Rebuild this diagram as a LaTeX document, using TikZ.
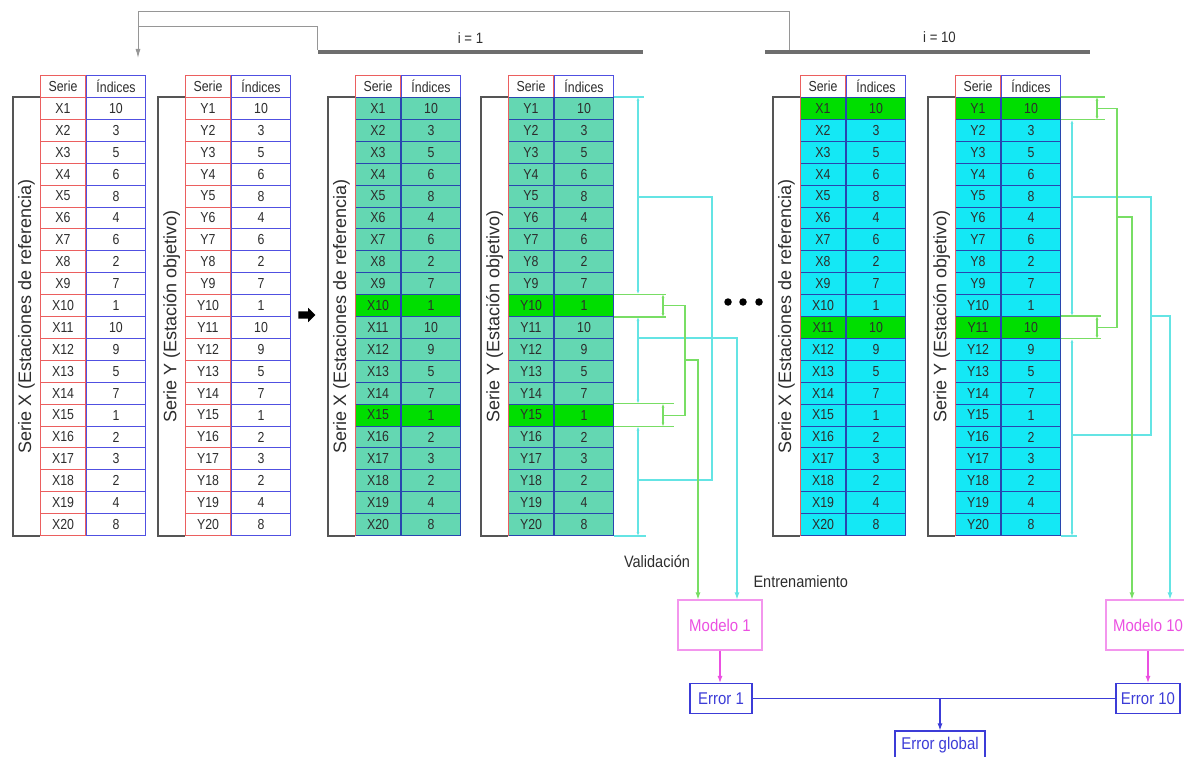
\documentclass[tikz,border=0pt]{standalone}
\usepackage{fontspec}
\setmainfont{Liberation Sans}
\newfontfamily\cellfont[FakeStretch=0.85]{Liberation Sans}
\newfontfamily\boxfont[FakeStretch=0.88]{Liberation Sans}
\usetikzlibrary{positioning,arrows.meta,calc,shapes.arrows}

\definecolor{serred}{RGB}{235,95,95}
\definecolor{serblue}{RGB}{80,80,225}
\definecolor{cellblue}{RGB}{40,70,175}
\definecolor{aquafill}{RGB}{100,215,178}
\definecolor{cyanfill}{RGB}{20,232,245}
\definecolor{hlgreen}{RGB}{0,222,0}
\definecolor{trainc}{RGB}{100,228,228}
\definecolor{valc}{RGB}{120,222,100}
\definecolor{magc}{RGB}{235,80,225}
\definecolor{errc}{RGB}{60,60,215}
\definecolor{brkgray}{RGB}{85,85,85}
\definecolor{topgray}{RGB}{150,150,150}
\definecolor{bargray}{RGB}{110,110,110}
\definecolor{txtgray}{RGB}{45,45,45}

\tikzset{
  cell/.style={anchor=north west, inner sep=0pt, minimum height=21.9pt, line width=1pt,
               text=txtgray, font=\cellfont\fontsize{14.5}{16}\selectfont},
  colS/.style={cell, minimum width=45pt},
  colI/.style={cell, minimum width=59pt},
  headS/.style={colS, draw=serred, fill=white},
  headI/.style={colI, draw=serblue, fill=white},
  plainS/.style={colS, draw=serred},
  plainI/.style={colI, draw=serblue},
  aquaS/.style={colS, draw=cellblue},
  aquaI/.style={colI, draw=cellblue},
  cyanS/.style={colS, draw=cellblue},
  cyanI/.style={colI, draw=cellblue}
}

% #1 name, #2 left x, #3 letter, #4 kind, #5/#6 validation rows, #7 fill, #8 side label
\newcommand{\serietable}[8]{%
  \node[headS] (#1-hs) at (#2,75.1) {Serie};
  \node[headI, right=0pt of #1-hs] (#1-hi) {Índices};
  \foreach \v [count=\k] in {10,3,5,6,8,4,6,2,7,1,10,9,5,7,1,2,3,2,4,8}{%
    \ifnum\k=#5 \colorlet{rowfill}{hlgreen}\else
      \ifnum\k=#6 \colorlet{rowfill}{hlgreen}\else\colorlet{rowfill}{#7}\fi\fi
    \node[#4S, fill=rowfill] (#1-s\k) at (#2,{97+21.9*(\k-1)}) {#3\k};
    \node[#4I, fill=rowfill, right=0pt of #1-s\k] (#1-i\k) {\v};
  }
  \draw[serred, line width=1pt] (#1-s1.north west) -- (#1-s20.south west);
  \draw[brk] (#1-s1.north west) -- ++(-27,0) coordinate (#1-bt) |- (#1-s20.south west);
  \node[brklab] (#1-lab) at ($(#1-bt)!0.5!(#1-bt |- #1-s20.south west)+(13.5,0)$) {#8};
}

\begin{document}
\begin{tikzpicture}[x=1pt, y=-1pt, >={Latex[length=7pt,width=5pt]},
  brk/.style={draw=brkgray, line width=1.2pt},
  brklab/.style={rotate=90, inner sep=0pt, text=txtgray, font=\fontsize{18}{20}\selectfont},
  topline/.style={draw=topgray, line width=1pt},
  bar/.style={fill=bargray, inner sep=0pt, minimum height=4.5pt},
  steplab/.style={text=txtgray, font=\boxfont\fontsize{15}{17}\selectfont},
  train/.style={draw=trainc, line width=1.1pt},
  valid/.style={draw=valc, line width=1.1pt},
  dimarrows/.style={{Latex[length=4pt,width=3pt]}-{Latex[length=4pt,width=3pt]}},
  modelbox/.style={draw=magc!60, line width=1.1pt, text=magc, minimum width=84pt,
                   minimum height=50pt, font=\boxfont\fontsize{17}{19}\selectfont},
  errbox/.style={draw=errc, line width=1.1pt, text=errc, minimum height=30pt, inner xsep=5pt,
                 font=\boxfont\fontsize{17}{19}\selectfont},
  txtlab/.style={text=txtgray, font=\boxfont\fontsize{16.5}{18}\selectfont},
  dot/.style={circle, fill=black, inner sep=0pt, minimum size=7.5pt}]
  \useasboundingbox (0,0) rectangle (1184,757);

  % the six tables
  \serietable{t1}{40}{X}{plain}{0}{0}{white}{Serie X (Estaciones de referencia)}
  \serietable{t2}{185}{Y}{plain}{0}{0}{white}{Serie Y (Estación objetivo)}
  \serietable{t3}{355}{X}{aqua}{10}{15}{aquafill}{Serie X (Estaciones de referencia)}
  \serietable{t4}{508}{Y}{aqua}{10}{15}{aquafill}{Serie Y (Estación objetivo)}
  \serietable{t5}{800}{X}{cyan}{1}{11}{cyanfill}{Serie X (Estaciones de referencia)}
  \serietable{t6}{955}{Y}{cyan}{1}{11}{cyanfill}{Serie Y (Estación objetivo)}

  % iterations on top
  \node[bar, minimum width=325pt] (bar1) at (480.5,52) {};
  \node[bar, minimum width=325pt] (bar10) at (927.5,52) {};
  \node[steplab, above=3pt of bar1, xshift=-10pt] (lab1) {i = 1};
  \node[steplab, above=3pt of bar10, xshift=12pt] (lab10) {i = 10};
  \coordinate (start) at (138,58);
  \coordinate (up10) at ($(bar10.north west)+(25,0)$);
  \draw[topline, -{Latex[length=9pt,width=5pt]}] (up10) -- (up10 |- 0,12) -| (start);
  \draw[topline] (bar1.north west) |- (start |- 0,27);

  \node[single arrow, fill=black, inner sep=3.5pt, minimum height=17pt,
        single arrow head extend=3.5pt] (nextarr) at (305,315) {};
  \foreach \d [count=\n] in {728,743,759} \node[dot] (dot\n) at (\d,302) {};

  % models and errors
  \node[modelbox] (mod1) at (720,625) {Modelo 1};
  \node[errbox, minimum width=62pt] (err1) at (721,698.5) {Error 1};
  \node[errbox, minimum width=90pt, minimum height=29pt] (errg) at (940,745.5) {Error global};
  \node[modelbox] (mod10) at (1148,625) {Modelo 10};
  \node[errbox] (err10) at (1148,698.5) {Error 10};
  \draw[magc, line width=1.1pt, ->] (mod1.south) -- (mod1.south |- err1.north);
  \draw[magc, line width=1.1pt, ->] (mod10.south) -- (mod10.south |- err10.north);
  \draw[errc, line width=1.1pt] (err1.east) -- (err10.west);
  \draw[errc, line width=1.1pt, ->] (errg.north |- err1.east) -- (errg.north);
  \node[txtlab] (valtxt) at (657,562) {Validación};
  \node[txtlab, anchor=west] (enttxt) at (750,582) {Entrenamiento};

  % i = 1: training
  \coordinate (cx4) at (638,0);
  \draw[train] (t4-i1.north east) -- ++(30,0);
  \draw[train] (t4-i20.south east) -- ++(32,0);
  \draw[train, dimarrows] (cx4 |- t4-i1.north) -- (cx4 |- t4-i10.north);
  \draw[train, dimarrows] (cx4 |- t4-i10.south) -- (cx4 |- t4-i15.north);
  \draw[train, dimarrows] (cx4 |- t4-i15.south) -- (cx4 |- t4-i20.south);
  \coordinate (cb4t) at (712,197);
  \coordinate (cb4b) at (712,480);
  \draw[train] (cx4 |- cb4t) -- (cb4t) -- (cb4b) -- (cx4 |- cb4b);
  \coordinate (co4) at (737,338);
  \draw[train, ->] (cx4 |- co4) -- (co4) -- (co4 |- mod1.north);

  % i = 1: validation
  \coordinate (gx4) at (663,0);
  \foreach \r/\l in {10/52,15/60}{
    \draw[valid] (t4-i\r.north east) -- ++(\l,0);
    \draw[valid] (t4-i\r.south east) -- ++(\l,0);
    \draw[valid, dimarrows] (gx4 |- t4-i\r.north) -- (gx4 |- t4-i\r.south);
  }
  \coordinate (gb4) at (685,0);
  \draw[valid] (gx4 |- t4-i10) -- (gb4 |- t4-i10) -- (gb4 |- t4-i15) -- (gx4 |- t4-i15);
  \coordinate (go4) at (698,360);
  \draw[valid, ->] (gb4 |- go4) -- (go4) -- (go4 |- mod1.north);

  % i = 10: training
  \coordinate (cx6) at (1072,0);
  \draw[train] (t6-i20.south east) -- ++(16,0);
  \draw[train, dimarrows] (cx6 |- t6-i1.south) -- (cx6 |- t6-i11.north);
  \draw[train, dimarrows] (cx6 |- t6-i11.south) -- (cx6 |- t6-i20.south);
  \coordinate (cb6t) at (1151,197);
  \coordinate (cb6b) at (1151,435);
  \draw[train] (cx6 |- cb6t) -- (cb6t) -- (cb6b) -- (cx6 |- cb6b);
  \coordinate (co6) at (1170,316);
  \draw[train, ->] (cb6t |- co6) -- (co6) -- (co6 |- mod10.north);

  % i = 10: validation
  \coordinate (gx6) at (1097,0);
  \foreach \r/\l in {1/44,11/40}{
    \draw[valid] (t6-i\r.north east) -- ++(\l,0);
    \draw[valid] (t6-i\r.south east) -- ++(\l,0);
    \draw[valid, dimarrows] (gx6 |- t6-i\r.north) -- (gx6 |- t6-i\r.south);
  }
  \coordinate (gb6) at (1117,0);
  \draw[valid] (gx6 |- t6-i1) -- (gb6 |- t6-i1) -- (gb6 |- t6-i11) -- (gx6 |- t6-i11);
  \coordinate (go6) at (1132,217);
  \draw[valid, ->] (gb6 |- go6) -- (go6) -- (go6 |- mod10.north);
\end{tikzpicture}
\end{document}
